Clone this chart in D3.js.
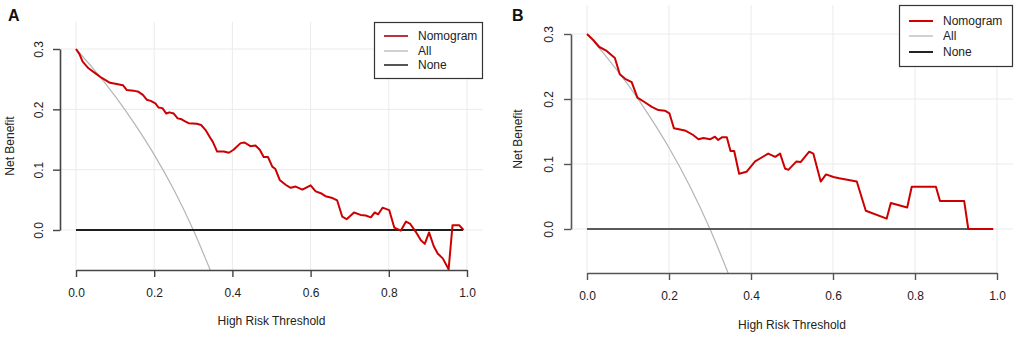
<!DOCTYPE html>
<html><head><meta charset="utf-8">
<script src="https://cdn.jsdelivr.net/npm/d3@7"></script>
<style>
html,body{margin:0;padding:0;background:#fff;}
svg{display:block;font-family:"Liberation Sans",Arial,sans-serif;}
</style></head>
<body><svg id="chart" width="1021" height="340"></svg>
<script>
// ---- data ----
const xTicks = [0, 0.2, 0.4, 0.6, 0.8, 1.0];
const yTicks = [0, 0.1, 0.2, 0.3];
const legendLabels = ["Nomogram", "All", "None"];

const aThreshold = [
  0, 0.0085, 0.017, 0.032, 0.049, 0.066, 0.087, 0.104, 0.12, 0.13,
  0.147, 0.16, 0.171, 0.181, 0.191, 0.203, 0.211, 0.221, 0.231, 0.239,
  0.25, 0.26, 0.268, 0.279, 0.288, 0.309, 0.32, 0.331, 0.344, 0.35,
  0.361, 0.378, 0.391, 0.403, 0.421, 0.431, 0.446, 0.459, 0.47, 0.48,
  0.491, 0.502, 0.51, 0.521, 0.536, 0.549, 0.562, 0.579, 0.6, 0.613,
  0.626, 0.638, 0.656, 0.668, 0.681, 0.692, 0.711, 0.728, 0.741, 0.754,
  0.764, 0.773, 0.784, 0.801, 0.814, 0.831, 0.844, 0.855, 0.869, 0.882,
  0.892, 0.903, 0.915, 0.925, 0.938, 0.953, 0.963, 0.98, 0.991];
const aNomogram = [
  0.3, 0.292, 0.279, 0.268, 0.26, 0.252, 0.244, 0.242, 0.24, 0.232,
  0.231, 0.229, 0.224, 0.216, 0.214, 0.21, 0.203, 0.202, 0.193, 0.195,
  0.193, 0.185, 0.184, 0.18, 0.177, 0.176, 0.174, 0.166, 0.152, 0.146,
  0.13, 0.13, 0.128, 0.133, 0.144, 0.145, 0.139, 0.14, 0.133, 0.121,
  0.121, 0.105, 0.101, 0.083, 0.075, 0.07, 0.072, 0.067, 0.074, 0.064,
  0.061, 0.056, 0.053, 0.049, 0.022, 0.018, 0.029, 0.025, 0.024, 0.021,
  0.029, 0.026, 0.037, 0.033, 0.004, -0.001, 0.014, 0.01, -0.003, -0.017,
  -0.023, -0.004, -0.027, -0.039, -0.047, -0.065, 0.008, 0.008, 0.0];

const bThreshold = [
  0, 0.015, 0.03, 0.048, 0.068, 0.08, 0.093, 0.109, 0.123, 0.141,
  0.158, 0.174, 0.19, 0.201, 0.212, 0.227, 0.241, 0.258, 0.272, 0.284,
  0.3, 0.312, 0.32, 0.329, 0.341, 0.35, 0.359, 0.371, 0.389, 0.41,
  0.426, 0.442, 0.459, 0.471, 0.483, 0.491, 0.511, 0.521, 0.542, 0.552,
  0.57, 0.583, 0.601, 0.615, 0.658, 0.68, 0.731, 0.741, 0.781, 0.792,
  0.851, 0.861, 0.92, 0.93, 0.991];
const bNomogram = [
  0.3, 0.291, 0.28, 0.274, 0.263, 0.238, 0.231, 0.226, 0.202, 0.195,
  0.188, 0.183, 0.182, 0.178, 0.155, 0.153, 0.151, 0.145, 0.138, 0.14,
  0.138, 0.142, 0.137, 0.141, 0.141, 0.12, 0.12, 0.085, 0.088, 0.104,
  0.11, 0.116, 0.111, 0.116, 0.093, 0.091, 0.104, 0.103, 0.119, 0.116,
  0.073, 0.084, 0.08, 0.078, 0.073, 0.028, 0.016, 0.04, 0.033, 0.065,
  0.065, 0.043, 0.043, 0.0, 0.0];

const allThreshold = [0, 0.05, 0.1, 0.15, 0.2, 0.25, 0.3, 0.35];
const allNB = [0.3, 0.263, 0.222, 0.176, 0.125, 0.067, 0, -0.077];
const noneThreshold = [0, 0.99];
const noneNB = [0, 0];

// ---- layout per panel ----
const panels = [
  {id:"a", title:"A", thr:aThreshold, nb:aNomogram,
   box:{l:60, r:483, t:22, b:270}, xr:[76,467], yr:[230,49],
   titlePos:[8,21], ylabX:10, xlabY:321, tickLabOff:22.5,
   noneColor:"#1e1e1e", axisColor:"#444",
   leg:{x:374, y:22, w:109, h:57, rows:[14,29,43]},
   legColors:["#b8343f","#d0d0d0","#555"]},
  {id:"b", title:"B", thr:bThreshold, nb:bNomogram,
   box:{l:571, r:1013, t:5, b:273}, xr:[587,997], yr:[229,34],
   titlePos:[512,21], ylabX:518, xlabY:325, tickLabOff:23,
   noneColor:"#5a5a5a", axisColor:"#555",
   leg:{x:899, y:5, w:114, h:62, rows:[16,31,47]},
   legColors:["#d40000","#d0d0d0","#222"]}
];

const svg = d3.select("#chart");
const defs = svg.append("defs");

panels.forEach(p => {
  const x = d3.scaleLinear().domain([0,1]).range(p.xr);
  const y = d3.scaleLinear().domain([0,0.3]).range(p.yr);
  const g = svg.append("g");

  defs.append("clipPath").attr("id","clip-"+p.id).append("rect")
    .attr("x",p.box.l).attr("y",p.box.t)
    .attr("width",p.box.r-p.box.l).attr("height",p.box.b-p.box.t);

  // grid
  g.append("g").selectAll("line").data(xTicks).join("line")
    .attr("x1",d=>x(d)).attr("x2",d=>x(d))
    .attr("y1",p.box.t).attr("y2",p.box.b)
    .attr("stroke","#ebebeb").attr("stroke-width",1);
  g.append("g").selectAll("line").data(yTicks).join("line")
    .attr("x1",p.box.l).attr("x2",p.box.r)
    .attr("y1",d=>y(d)).attr("y2",d=>y(d))
    .attr("stroke","#ebebeb").attr("stroke-width",1);

  const plot = g.append("g").attr("clip-path","url(#clip-"+p.id+")");
  const line = d3.line().x(d=>x(d[0])).y(d=>y(d[1]));

  // All
  plot.append("path")
    .datum(allThreshold.map((t,i)=>[t,allNB[i]]))
    .attr("d", d3.line().x(d=>x(d[0])).y(d=>y(d[1])).curve(d3.curveMonotoneX))
    .attr("fill","none").attr("stroke","#b5b5b5").attr("stroke-width",1.2);
  // None
  plot.append("path")
    .datum(noneThreshold.map((t,i)=>[t,noneNB[i]]))
    .attr("d", line)
    .attr("fill","none").attr("stroke",p.noneColor).attr("stroke-width",2);
  // Nomogram
  plot.append("path")
    .datum(p.thr.map((t,i)=>[t,p.nb[i]]))
    .attr("d", line)
    .attr("fill","none").attr("stroke","#cc0000").attr("stroke-width",2)
    .attr("stroke-linejoin","round");

  // axes
  const xa = g.append("g").attr("transform","translate(0,"+p.box.b+")")
    .call(d3.axisBottom(x).tickValues(xTicks).tickFormat(d3.format(".1f")).tickSize(7).tickSizeOuter(0));
  const ya = g.append("g").attr("transform","translate("+p.box.l+",0)")
    .call(d3.axisLeft(y).tickValues(yTicks).tickFormat(d3.format(".1f")).tickSize(7).tickSizeOuter(0));
  [xa,ya].forEach(a=>{
    a.select(".domain").attr("stroke",p.axisColor).attr("stroke-width",1.6);
    a.selectAll(".tick line").attr("stroke",p.axisColor).attr("stroke-width",1.4);
    a.selectAll(".tick text").attr("font-size",12).attr("fill","#222")
      .attr("font-family","'Liberation Sans',Arial,sans-serif");
  });
  xa.selectAll(".tick text").attr("y",null).attr("dy",null)
    .attr("dominant-baseline","central").attr("y",p.tickLabOff);
  ya.selectAll(".tick text").attr("x",null).attr("dy",null)
    .attr("text-anchor","middle").attr("dominant-baseline","central")
    .attr("transform","translate("+(-p.tickLabOff+1)+",0) rotate(-90)");

  // labels
  g.append("text").attr("x",(p.box.l+p.box.r)/2).attr("y",p.xlabY)
    .attr("text-anchor","middle").attr("dominant-baseline","central")
    .attr("font-size",12).attr("fill","#222").text("High Risk Threshold");
  g.append("text")
    .attr("transform","translate("+p.ylabX+","+((p.box.t+p.box.b)/2)+") rotate(-90)")
    .attr("text-anchor","middle").attr("dominant-baseline","central")
    .attr("font-size",12).attr("fill","#222").text("Net Benefit");
  g.append("text").attr("x",p.titlePos[0]).attr("y",p.titlePos[1])
    .attr("font-size",16).attr("font-weight","bold").attr("fill","#111").text(p.title);

  // legend
  const L = p.leg;
  const lg = g.append("g");
  lg.append("rect").attr("x",L.x+0.5).attr("y",L.y+0.5).attr("width",L.w-1).attr("height",L.h-1)
    .attr("fill","#fff").attr("stroke","#333").attr("stroke-width",1.2);
  legendLabels.forEach((lab,i)=>{
    lg.append("line").attr("x1",L.x+10).attr("x2",L.x+34)
      .attr("y1",L.y+L.rows[i]).attr("y2",L.y+L.rows[i])
      .attr("stroke",p.legColors[i]).attr("stroke-width",2);
    lg.append("text").attr("x",L.x+44).attr("y",L.y+L.rows[i])
      .attr("dominant-baseline","central").attr("font-size",12).attr("fill","#222").text(lab);
  });
});
</script></body></html>
